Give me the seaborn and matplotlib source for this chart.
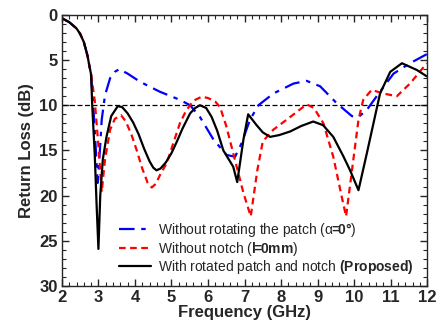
import numpy as np
import pandas as pd
import matplotlib
matplotlib.use("Agg")
import matplotlib.pyplot as plt
from matplotlib.ticker import MultipleLocator
import seaborn as sns

# common low-frequency part (all three curves overlap here)
f_common = [2.0, 2.2, 2.4, 2.5, 2.6, 2.7, 2.75]
rl_common = [0.37, 0.8, 1.5, 2.1, 3.0, 4.5, 5.6]

# without rotating the patch (alpha = 0 deg)
f_blue = [2.8, 2.86, 2.93, 2.98, 3.04, 3.09, 3.18, 3.32, 3.45, 3.57, 3.8, 4.14, 4.68, 5.23, 5.51,
          5.78, 6.15, 6.51, 6.74, 6.92, 7.15, 7.38, 7.79, 8.34, 8.7, 9.07, 9.53, 9.94, 10.12,
          10.35, 10.71, 11.08, 11.53, 11.99]
rl_blue = [6.8, 10.1, 15.0, 18.6, 15.0, 11.6, 8.9, 7.0, 6.3, 6.0, 6.5, 7.4, 8.5, 9.4, 10.0,
           11.3, 13.8, 15.5, 15.7, 14.2, 11.6, 10.0, 8.7, 7.6, 7.3, 7.9, 9.8, 11.2, 11.3,
           10.5, 8.5, 6.5, 5.35, 4.35]

# without notch (l = 0 mm)
f_red = [2.8, 2.9, 3.0, 3.09, 3.18, 3.32, 3.45, 3.62, 3.75, 3.9, 4.05, 4.2, 4.35, 4.46, 4.57, 4.7,
         4.87, 5.05, 5.23, 5.4, 5.6, 5.83, 6.0, 6.2, 6.33, 6.5, 6.69, 6.97, 7.17, 7.35, 7.5,
         7.79, 8.25, 8.7, 8.9, 9.16, 9.43, 9.66, 9.78, 9.98, 10.12, 10.25, 10.48, 10.8, 11.17,
         11.53, 11.99]
rl_red = [6.6, 9.5, 14.5, 19.6, 16.0, 12.7, 11.5, 11.1, 11.8, 13.2, 15.0, 17.0, 18.6, 19.1, 18.7, 17.6,
          16.4, 14.2, 12.0, 10.6, 9.5, 9.05, 9.2, 9.6, 10.2, 12.3, 15.3, 19.7, 22.3, 17.2, 14.0,
          12.7, 11.3, 9.9, 10.3, 12.0, 15.7, 20.1, 22.3, 16.0, 11.6, 9.4, 8.3, 8.7, 9.0,
          7.6, 5.35]

# with rotated patch and notch (proposed)
f_black = [2.8, 2.83, 2.9, 2.95, 3.0, 3.05, 3.12, 3.22, 3.35, 3.53, 3.65, 3.8, 3.95, 4.1, 4.25, 4.4,
           4.5, 4.59, 4.7, 4.85, 5.0, 5.15, 5.3, 5.51, 5.65, 5.78, 5.95, 6.1, 6.25, 6.42, 6.69,
           6.8, 6.97, 7.1, 7.33, 7.5, 7.7, 7.95, 8.25, 8.55, 8.88, 9.15, 9.43, 9.7, 9.89, 10.12,
           10.35, 10.71, 10.99, 11.31, 11.72, 11.99]
rl_black = [6.6, 10.0, 15.5, 21.0, 25.9, 20.0, 16.0, 13.5, 11.2, 10.1, 10.2, 10.9, 11.9, 13.2, 14.8, 16.2,
            16.9, 17.2, 17.0, 16.3, 15.3, 14.0, 12.6, 10.9, 10.3, 10.0, 10.3, 11.3, 12.8, 15.0, 16.8,
            18.5, 13.8, 11.0, 12.2, 13.0, 13.5, 13.3, 12.9, 12.3, 11.8, 12.2, 13.5, 15.6, 17.2, 19.4,
            15.3, 8.7, 6.3, 5.35, 6.1, 6.8]

labels = [r"Without rotating the patch ($\alpha\!\!\mathbf{=}\!\!\mathbf{0°}$)",
          r"Without notch ($\mathbf{l}\!\!\mathbf{=}\!\!\mathbf{0mm}$)",
          r"With rotated patch and notch $\mathbf{(Proposed)}$"]

sns.set_style("ticks")
plt.rcParams["font.family"] = ["Liberation Sans", "DejaVu Sans"]
plt.rcParams["mathtext.fontset"] = "custom"
plt.rcParams["mathtext.rm"] = "Liberation Sans"
plt.rcParams["mathtext.it"] = "Liberation Sans"
plt.rcParams["mathtext.bf"] = "Liberation Sans:bold"

fig = plt.figure(figsize=(4.39, 3.31), dpi=100)
ax = fig.add_axes([0.141, 0.136, 0.832, 0.819])

def series(f, rl):
    return pd.DataFrame({"f": f_common + f, "rl": rl_common + rl})

ax.axhline(10, color="black", lw=0.9, ls=(0, (4, 2)), zorder=1)

b = series(f_blue, rl_blue)
sns.lineplot(data=b, x="f", y="rl", ax=ax, color="#0000ff", lw=1.6, label=labels[0], sort=False)
ax.lines[-1].set_linestyle((0, (7, 3, 2, 3)))

r = series(f_red, rl_red)
sns.lineplot(data=r, x="f", y="rl", ax=ax, color="#ff0000", lw=1.6, label=labels[1], sort=False)
ax.lines[-1].set_linestyle((0, (3, 2)))

k = series(f_black, rl_black)
sns.lineplot(data=k, x="f", y="rl", ax=ax, color="black", lw=1.6, label=labels[2], sort=False)

ax.set_xlim(2, 12)
ax.set_ylim(30, 0)
ax.xaxis.set_major_locator(MultipleLocator(1))
ax.xaxis.set_minor_locator(MultipleLocator(0.2))
ax.yaxis.set_major_locator(MultipleLocator(5))
ax.yaxis.set_minor_locator(MultipleLocator(1))
ax.tick_params(which="both", direction="in", top=True, right=True)
ax.tick_params(which="major", length=5, width=1, labelsize=12, pad=3)
ax.tick_params(which="minor", length=3, width=0.8)
for lab in ax.get_xticklabels() + ax.get_yticklabels():
    lab.set_fontweight("bold")
for sp in ax.spines.values():
    sp.set_linewidth(1)

ax.set_xlabel("Frequency (GHz)", fontsize=12, fontweight="bold", labelpad=0)
ax.set_ylabel("Return Loss (dB)", fontsize=12, fontweight="bold", labelpad=4)

leg = ax.legend(loc="lower left", bbox_to_anchor=(0.13, 0.0), frameon=False, fontsize=10,
                handlelength=2.3, handletextpad=0.5, labelspacing=0.05, borderaxespad=0.3)

fig.savefig("out.png", dpi=100)
